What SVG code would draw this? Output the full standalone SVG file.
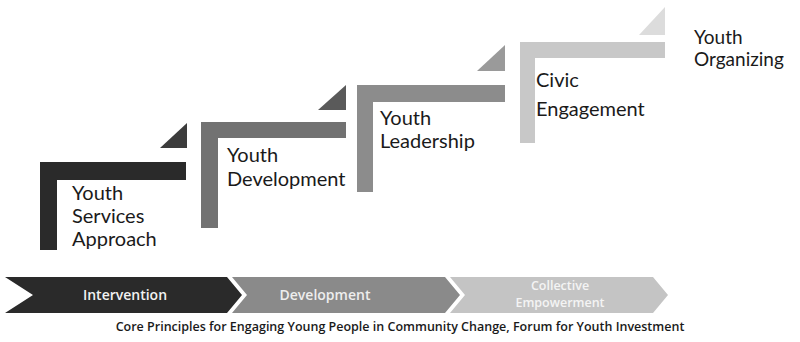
<svg xmlns="http://www.w3.org/2000/svg" width="800" height="342" viewBox="0 0 800 342">
<style>
.lbl{font-family:Lato,"Liberation Sans",sans-serif;font-size:20px;fill:#1a1a1a}
.band{font-family:"Open Sans","Liberation Sans",sans-serif;font-size:14px;font-weight:600;text-anchor:middle}
.band2{font-family:"Open Sans","Liberation Sans",sans-serif;font-size:12.5px;font-weight:600;text-anchor:middle}
.cap{font-family:"Open Sans","Liberation Sans",sans-serif;font-size:12.5px;font-weight:600;fill:#1a1a1a;text-anchor:middle}
</style>
<rect width="800" height="342" fill="#ffffff"/>
<g id="step1">
<path d="M160,148 L187,148 L187,123 Z" fill="#3c3c3c"/>
<path d="M40,162 L186,162 L186,180 L57,180 L57,250 L40,250 Z" fill="#2a2a2a"/>
<text class="lbl" x="72" y="200">Youth</text>
<text class="lbl" x="72" y="223">Services</text>
<text class="lbl" x="72" y="246">Approach</text>
</g>
<g id="step2">
<path d="M318,110 L346,110 L346,85 Z" fill="#5a5a5a"/>
<path d="M201,122 L346,122 L346,138 L218,138 L218,228 L201,228 Z" fill="#727272"/>
<text class="lbl" x="227" y="162">Youth</text>
<text class="lbl" x="227" y="186">Development</text>
</g>
<g id="step3">
<path d="M477,71 L505,71 L505,45 Z" fill="#9a9a9a"/>
<path d="M357,85 L505,85 L505,102 L373,102 L373,192 L357,192 Z" fill="#8c8c8c"/>
<text class="lbl" x="380" y="125">Youth</text>
<text class="lbl" x="380" y="148">Leadership</text>
</g>
<g id="step4">
<path d="M639,35 L665,35 L665,7 Z" fill="#dcdcdc"/>
<path d="M520,42 L665,42 L665,58 L535,58 L535,143 L520,143 Z" fill="#c8c8c8"/>
<text class="lbl" x="536" y="87">Civic</text>
<text class="lbl" x="536" y="116">Engagement</text>
</g>
<g id="step5">
<text class="lbl" x="694" y="44" style="font-size:19px">Youth</text>
<text class="lbl" x="694" y="66" style="font-size:19px">Organizing</text>
</g>
<g id="band">
<path d="M5,277 L227,277 L242,295 L227,313 L5,313 L33,295 Z" fill="#2a2a2a"/>
<path d="M232,277 L445,277 L460,295 L445,313 L232,313 L247,295 Z" fill="#8a8a8a"/>
<path d="M450,277 L653,277 L668,295 L653,313 L450,313 L465,295 Z" fill="#c4c4c4"/>
<text class="band" x="125" y="300" fill="#f2f2f2">Intervention</text>
<text class="band" x="325" y="300" fill="#eeeeee">Development</text>
<text class="band2" x="560" y="290" fill="#f4f4f4">Collective</text>
<text class="band2" x="560" y="307" fill="#f4f4f4">Empowerment</text>
</g>
<text class="cap" x="400" y="331">Core Principles for Engaging Young People in Community Change, Forum for Youth Investment</text>
</svg>
